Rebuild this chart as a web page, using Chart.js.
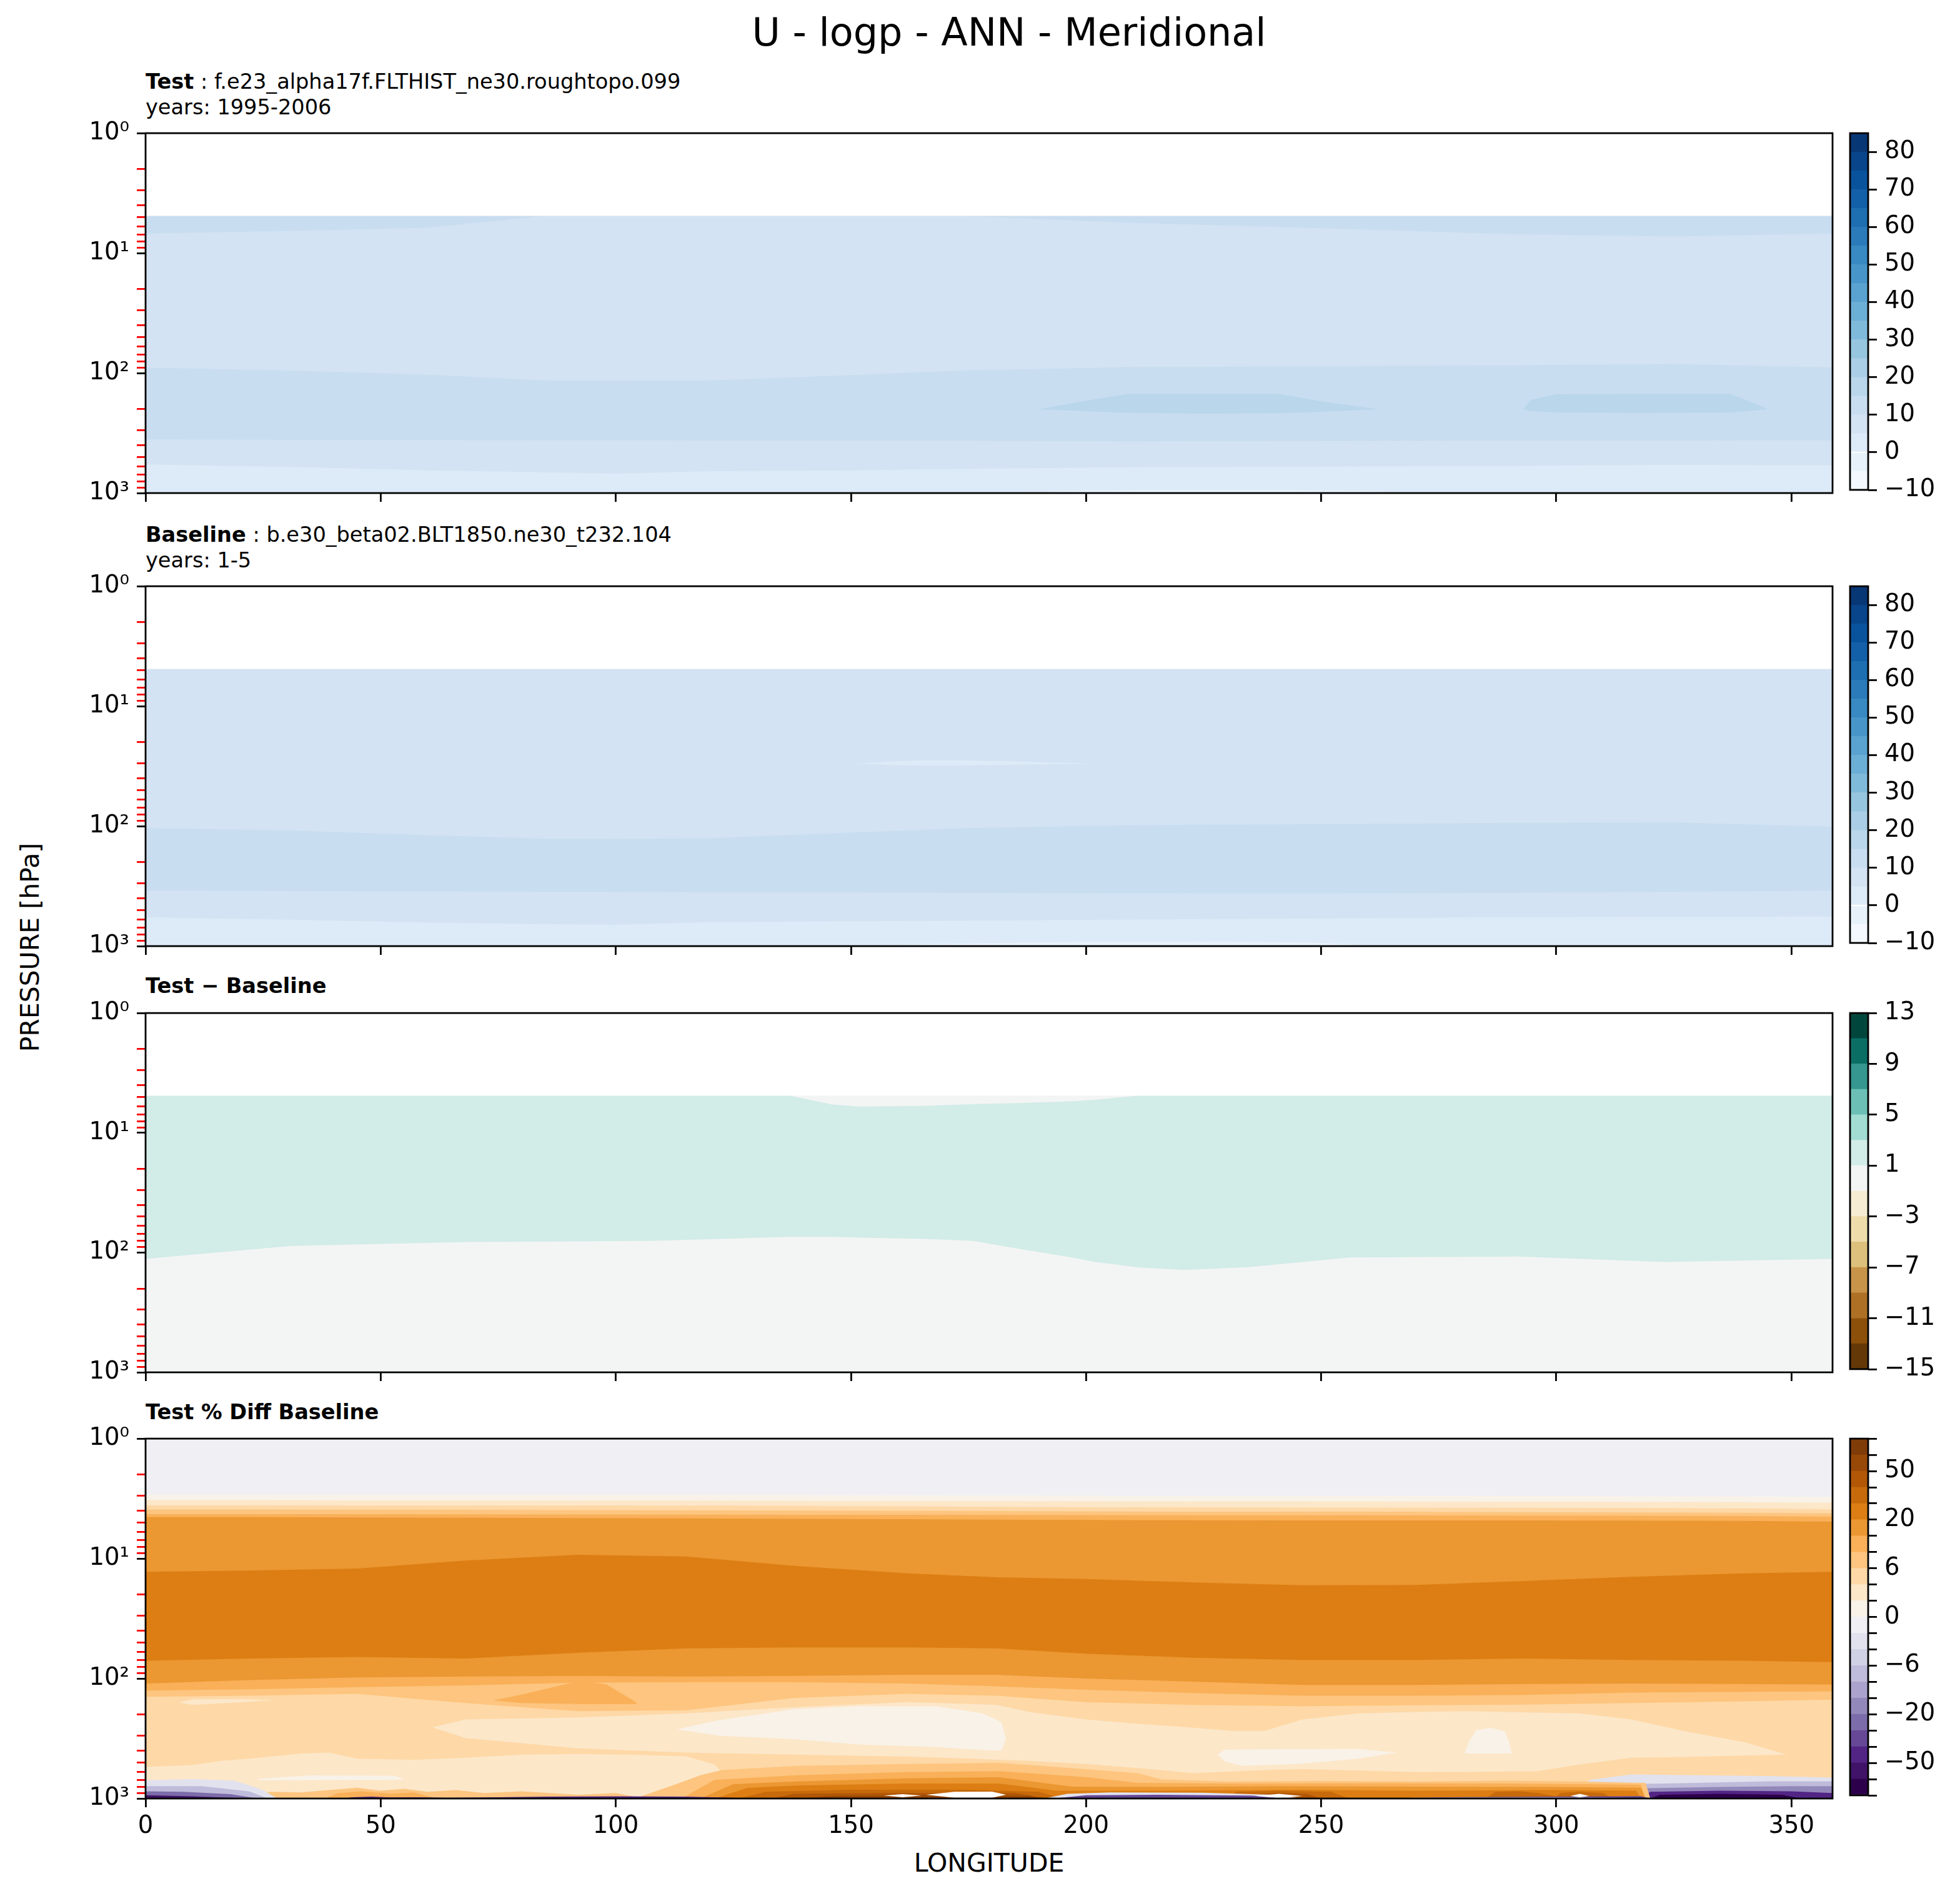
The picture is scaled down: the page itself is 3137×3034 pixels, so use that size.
<!DOCTYPE html>
<html>
<head>
<meta charset="utf-8">
<title>U - logp - ANN - Meridional</title>
<script src="https://cdn.jsdelivr.net/npm/chart.js@4.4.1/dist/chart.umd.min.js"></script>
<style>
  html, body { margin: 0; padding: 0; background: #fff; }
  body { position: relative; width: 3137px; height: 3034px; overflow: hidden; }
  canvas { position: absolute; }
  .txt { position: absolute; white-space: nowrap; font-family: 'DejaVu Sans', sans-serif; line-height: 1; color: #000; }
  .suptitle { font-size: 62px; left: 1615px; top: 21px; transform: translateX(-50%); }
  .ptitle { font-size: 33.6px; left: 233px; }
  .axlabel { font-size: 41px; }
</style>
</head>
<body>
<div class="txt suptitle">U - logp - ANN - Meridional</div>
<div class="txt ptitle" style="top:114px"><b>Test</b> : f.e23_alpha17f.FLTHIST_ne30.roughtopo.099</div>
<div class="txt ptitle" style="top:155px">years: 1995-2006</div>
<div class="txt ptitle" style="top:839px"><b>Baseline</b> : b.e30_beta02.BLT1850.ne30_t232.104</div>
<div class="txt ptitle" style="top:880px">years: 1-5</div>
<div class="txt ptitle" style="top:1561px"><b>Test − Baseline</b></div>
<div class="txt ptitle" style="top:2243px"><b>Test % Diff Baseline</b></div>
<div class="txt axlabel" style="left:1583px;top:2961px;transform:translateX(-50%)">LONGITUDE</div>
<div class="txt axlabel" style="left:48px;top:1516px;transform:translate(-50%,-50%) rotate(-90deg)">PRESSURE [hPa]</div>

<script>
// ---------- contour levels and ticks ----------
const TEST_LEVELS = [-10, -5, 0, 5, 10, 15, 20, 25, 30, 35, 40, 45, 50, 55, 60, 65, 70, 75, 80, 85];
const DIFF_LEVELS = [-15, -13, -11, -9, -7, -5, -3, -1, 1, 3, 5, 7, 9, 11, 13];
const PCT_LEVELS = [-100, -75, -50, -40, -30, -20, -15, -10, -6, -4, -2, 0, 2, 4, 6, 10, 15, 20, 30, 40, 50, 75, 100];
const TEST_CB_TICKS = [-10, 0, 10, 20, 30, 40, 50, 60, 70, 80];
const DIFF_CB_TICKS = [-15, -11, -7, -3, 1, 5, 9, 13];
const PCT_CB_LABELS = [-50, -20, -6, 0, 6, 20, 50];

const LON_TICKS = [0, 50, 100, 150, 200, 250, 300, 350];
const P_TICKS = [1, 2, 3, 4, 5, 6, 7, 8, 9, 10, 20, 30, 40, 50, 60, 70, 80, 90,
                 100, 200, 300, 400, 500, 600, 700, 800, 900, 1000];
const P_DECADES = [1, 10, 100, 1000];
const P_DECADE_LABELS = ['10⁰', '10¹', '10²', '10³'];

const LON_MIN = 0, LON_MAX = 358.75;
const P_MIN = 1, P_MAX = 1000;
const DATA_TOP = 4.9;   // model top: no data above (white)

// ---------- panel 1/2: contour boundaries (hPa) along longitude ----------
const LON_A = [0, 30, 60, 85, 100, 120, 150, 174, 210, 250, 290, 325, 358.75];
const TEST_STRAT = [6.86, 6.55, 6.15, 4.9, 4.9, 4.9, 4.9, 4.9, 5.6, 6.2, 6.95, 7.28, 6.86];
const TEST_UTROP = [90, 95, 103, 115, 116, 115, 104, 95, 89, 87.5, 86, 84, 89.5];
const TEST_MTROP = [358, 360, 362, 364, 364, 365, 366, 366, 372, 367, 366, 365, 364];
const TEST_LTROP = [578, 605, 645, 672, 689, 658, 645, 628, 608, 600, 593, 582, 589];
const BASE_UTROP = [104, 108, 119, 127, 128, 126, 113, 104, 98, 96, 94, 93, 101];
const BASE_MTROP = [345, 347, 350, 352, 353, 355, 358, 360, 364, 365, 360, 352, 345];
const BASE_LTROP = [574, 600, 635, 655, 663, 630, 620, 614, 600, 586, 574, 569, 567];

// closed contour areas: upper and lower edge (hPa); no lower edge = ground
const TEST_JET_A = { lon: [190, 200, 209, 225, 241, 250, 262], top: [200, 170, 149, 149, 149, 172, 200], bot: [200, 208, 214, 218, 216, 210, 200] };
const TEST_JET_B = { lon: [293, 294.5, 300, 318, 337, 341, 345], top: [200, 168, 150, 149, 149, 172, 200], bot: [200, 207, 212, 215, 213, 207, 200] };
const TEST_SFC_A = { lon: [185, 195, 215, 240, 260, 268], top: [1000, 962, 938, 938, 962, 1000] };
const TEST_SFC_B = { lon: [310, 320, 335, 342], top: [1000, 985, 985, 1000] };
const BASE_SLIVER = { lon: [151, 160, 168, 185, 202], top: [30.1, 28.6, 28.0, 28.8, 30.1], bot: [30.1, 31.0, 31.3, 30.9, 30.1] };
const BASE_SFC = { lon: [150, 170, 200, 230, 250, 262], top: [1000, 960, 918, 912, 940, 1000] };

// ---------- panel 3 ----------
const LON_C = [0, 31, 67, 107, 137, 146, 152, 166, 176, 185, 197, 202, 211, 221, 235, 256, 292, 323, 358.75];
const DIFF_TROP = [113, 88, 82, 80, 74, 74, 75, 77, 80, 92, 110, 120, 133, 140, 132, 110, 108, 120, 113];
const DIFF_TOPNEU = [4.9, 4.9, 4.9, 4.9, 4.9, 5.8, 6.03, 5.95, 5.76, 5.65, 5.45, 5.3, 4.9, 4.9, 4.9, 4.9, 4.9, 4.9, 4.9];

// ---------- panel 4 ----------
const LON_D = [0, 22, 45, 68, 92, 115, 138, 162, 181, 200, 223, 246, 270, 293, 316, 340, 358.75];
const PCT_T1 = [2.96, 2.96, 2.96, 2.96, 2.96, 2.96, 2.96, 2.97, 2.98, 2.99, 3.0, 3.0, 3.0, 3.01, 3.02, 3.03, 3.06];
const PCT_T2 = [3.26, 3.26, 3.27, 3.27, 3.28, 3.28, 3.29, 3.3, 3.31, 3.32, 3.33, 3.33, 3.34, 3.35, 3.36, 3.38, 3.42];
const PCT_T3 = [3.59, 3.59, 3.6, 3.6, 3.61, 3.62, 3.64, 3.67, 3.7, 3.72, 3.74, 3.75, 3.76, 3.77, 3.79, 3.82, 3.88];
const PCT_T4 = [3.9, 3.9, 3.91, 3.92, 3.94, 3.96, 3.98, 4.0, 4.02, 4.04, 4.06, 4.07, 4.08, 4.1, 4.12, 4.15, 4.2];
const PCT_T5 = [4.26, 4.26, 4.27, 4.28, 4.29, 4.3, 4.31, 4.32, 4.33, 4.34, 4.35, 4.36, 4.37, 4.38, 4.4, 4.42, 4.48];
const PCT_T6 = [4.51, 4.52, 4.54, 4.57, 4.6, 4.63, 4.66, 4.7, 4.73, 4.76, 4.79, 4.8, 4.8, 4.81, 4.82, 4.85, 4.92];
const PCT_B1 = [12.9, 12.6, 12.1, 10.4, 9.3, 9.6, 11.5, 13.3, 14.3, 14.8, 15.8, 16.7, 16.6, 15.4, 14.2, 13.3, 12.9];
const PCT_B2 = [71, 68, 66, 68, 61, 56, 55, 55, 56, 62, 67, 70, 70, 68, 70, 71, 73];
const PCT_B3 = [110, 103, 98, 96, 95, 96, 95, 93, 93, 100, 106, 113, 113, 111, 110, 111, 112];
const PCT_B4 = [126, 123, 118, 114, 108, 107, 107, 110, 116, 124, 132, 139, 139, 137, 131, 129, 128];
const PCT_B5 = [142, 139, 134, 160, 187, 184, 145, 134, 139, 157, 166, 170, 167, 165, 160, 155, 150];

const PCT_P12_BIG = {
  lon: [61, 68, 92, 115, 138, 162, 176, 181, 188, 200, 211, 223, 231, 238, 246, 258, 270, 281, 296, 305, 316, 328, 340, 349],
  top: [255, 219, 211, 195, 173, 157, 163, 166, 190, 219, 238, 257, 273, 273, 219, 195, 190, 187, 192, 195, 219, 278, 339, 430],
  bot: [255, 313, 382, 414, 431, 448, 466, 475, 485, 515, 557, 615, 595, 580, 569, 585, 603, 600, 591, 520, 457, 450, 439, 430] };
const PCT_P11_A = { lon: [113, 122, 138, 152, 168, 178, 182, 183], top: [265, 222, 180, 170, 170, 195, 230, 320], bot: [265, 300, 320, 355, 372, 395, 398, 320] };
const PCT_P11_B = { lon: [228, 229.5, 233, 245, 258, 266], top: [430, 392, 390, 388, 386, 414], bot: [430, 490, 535, 515, 466, 414] };
const PCT_P11_C = { lon: [280.5, 281.5, 283, 286, 289, 290, 290.5], top: [421, 330, 270, 257, 275, 340, 422], bot: [421, 422, 422, 422, 422, 422, 422] };
const PCT_P12_SMALL = { lon: [7, 10, 20, 27.5], top: [158, 149, 148, 151], bot: [158, 166, 158, 151] };
const PCT_P15_TRI = { lon: [74, 80, 92.5, 98, 104, 104.5], top: [152, 136, 104, 112, 155, 163], bot: [152, 160, 163, 163, 163, 163] };
const PCT_P12_LOW = { lon: [0, 10, 16, 22, 33, 39, 45, 57, 68, 80, 92, 104, 115, 121, 124], top: [546, 525, 485, 466, 422, 414, 466, 475, 457, 430, 425, 432, 445, 520, 700] };
const PCT_P11_STRIP = { lon: [24, 35, 53, 55], top: [685, 642, 645, 690], bot: [705, 705, 700, 690] };

const PCT_R10 = { lon: [305, 307, 316, 330, 345, 358.75], top: [1000, 700, 630, 640, 650, 670] };
const PCT_R8 = { lon: [314, 316, 330, 345, 358.75], top: [1000, 760, 740, 720, 720] };
const PCT_R6 = { lon: [317, 319, 335, 350, 358.75], top: [1000, 820, 800, 790, 790] };
const PCT_R3 = { lon: [318, 320, 335, 350, 358.75], top: [1000, 880, 860, 870, 900] };
const PCT_R1 = { lon: [320, 322, 335, 348, 352], top: [1000, 930, 915, 930, 1000] };
const PCT_S14A = { lon: [20, 22, 27, 33, 39, 45, 50, 55, 60, 66, 72, 80, 86, 92, 100, 106], top: [1000, 915, 880, 890, 850, 812, 860, 830, 880, 850, 900, 870, 900, 930, 900, 1000] };
const PCT_S15A = { lon: [38, 41, 46, 52, 57, 62], top: [1000, 900, 870, 910, 890, 1000] };
const PCT_S14B = { lon: [104, 112, 118, 122.5, 138.5, 162, 181.5, 193.7, 211, 216, 230, 250, 270, 290, 305, 319, 320], top: [1000, 780, 640, 579, 535, 515, 505, 546, 615, 693, 721, 715, 721, 710, 721, 740, 1000] };
const PCT_S15B = { lon: [114, 121, 138.5, 162, 181.5, 188, 199.6, 211, 230, 260, 290, 318, 319], top: [1000, 700, 640, 603, 591, 615, 661, 742, 750, 745, 750, 765, 1000] };
const PCT_S16 = { lon: [118, 125, 138.5, 162, 181.5, 197, 215, 240, 270, 300, 318, 319], top: [1000, 760, 721, 679, 666, 797, 800, 790, 796, 800, 812, 1000] };
const PCT_S17 = { lon: [121, 128, 138.5, 162, 181.5, 193.7, 215, 245, 270, 300, 317, 318], top: [1000, 815, 780, 750, 750, 860, 860, 845, 862, 850, 860, 1000] };
const PCT_S18 = { lon: [126, 132, 150, 175, 190, 195], top: [1000, 880, 845, 845, 880, 1000] };
const PCT_S19 = { lon: [133, 138, 160, 185, 192], top: [1000, 915, 897, 900, 1000] };
const PCT_S20 = { lon: [140, 145, 170, 188, 190], top: [1000, 952, 933, 950, 1000] };
const PCT_S18B = { lon: [230, 232, 241, 252, 256], top: [1000, 880, 862, 880, 1000] };
const PCT_S19B = { lon: [235, 237, 241, 247, 250], top: [1000, 915, 897, 915, 1000] };
const PCT_S18C = { lon: [285, 287, 292, 296, 300, 301, 305, 310, 312], top: [1000, 879, 870, 900, 960, 897, 879, 900, 1000] };
const PCT_L10 = { lon: [0, 10, 19, 25, 28], top: [705, 690, 710, 850, 1000] };
const PCT_L8 = { lon: [0, 12, 22, 26], top: [790, 790, 870, 1000] };
const PCT_L5 = { lon: [0, 8, 18, 24], top: [870, 880, 920, 1000] };
const PCT_L2 = { lon: [0, 10, 20, 22], top: [940, 960, 990, 1000] };
const PCT_M2 = { lon: [42, 44, 48, 52, 58, 64, 75, 85, 100, 115, 125, 128], top: [1000, 975, 965, 980, 975, 985, 975, 965, 960, 965, 985, 1000] };
const PCT_M9 = { lon: [191, 196, 205, 225, 240, 246], top: [1000, 915, 890, 895, 930, 1000] };
const PCT_M3 = { lon: [193, 200, 215, 235, 245], top: [1000, 940, 930, 945, 1000] };
const PCT_M3B = { lon: [265, 275, 300, 318, 320], top: [1000, 975, 965, 955, 1000] };
const PCT_W1 = { lon: [157, 161, 165], top: [945, 920, 945], bot: [945, 975, 945] };
const PCT_W2 = { lon: [166, 172, 180, 183], top: [930, 880, 876, 930], bot: [930, 985, 985, 930] };
const PCT_W3 = { lon: [236, 241, 246], top: [952, 915, 952], bot: [952, 990, 952] };
const PCT_W4 = { lon: [303, 305, 307], top: [952, 915, 952], bot: [952, 975, 952] };
const PCT_W5 = { lon: [262, 270, 300, 316, 318], top: [1000, 985, 980, 988, 1000] };

// ---------- colour maps ----------
const BLUES = ['#f7fbff', '#deebf7', '#c6dbef', '#9ecae1', '#6baed6', '#4292c6', '#2171b5', '#08519c', '#08306b'];
const PUOR_R = ['#2d004b', '#542788', '#8073ac', '#b2abd2', '#d8daeb', '#f7f7f7', '#fee0b6', '#fdb863', '#e08214', '#b35806', '#7f3b08'];
const DIFF_COLORS = ['#643807', '#8c500b', '#ae7025', '#c8944a', '#dcc07c', '#eedcaa', '#f6ebd3',
                     '#f3f5f4', '#d2ece8', '#a2dcd3', '#6cbfb4', '#35978f', '#0b6e65', '#00463c'];

function hexRgb(h) { return [1, 3, 5].map(i => parseInt(h.slice(i, i + 2), 16)); }
function sampleMap(anchors, t) {
  const n = anchors.length - 1, x = Math.min(Math.max(t, 0), 1) * n;
  const i = Math.min(Math.floor(x), n - 1), f = x - i;
  const a = hexRgb(anchors[i]), b = hexRgb(anchors[i + 1]);
  return 'rgb(' + a.map((v, j) => Math.round(v + (b[j] - v) * f)).join(',') + ')';
}
// midpoint sampling (plain contourf norm) or end-to-end sampling (boundary norm)
function binColors(anchors, nBins, midpoints) {
  const out = [];
  for (let k = 0; k < nBins; k++) {
    out.push(sampleMap(anchors, midpoints ? (k + 0.5) / nBins : k / (nBins - 1)));
  }
  return out;
}
const TEST_COLORS = binColors(BLUES, TEST_LEVELS.length - 1, true);
const PCT_COLORS = binColors(PUOR_R, PCT_LEVELS.length - 1, false);

// ---------- layout ----------
const AX_LEFT = 233, AX_RIGHT = 2933, CB_LEFT = 2961, CB_RIGHT = 2990;
const PANEL_BOXES = [
  { top: 208, bottom: 789 },
  { top: 933, bottom: 1514 },
  { top: 1616, bottom: 2196 },
  { top: 2297, bottom: 2878 }
];
const PAD_TOP = 30, X_AXIS_H = 70, TICK_LEN = 14, LINE_W = 2.8;

Chart.defaults.font.family = "'DejaVu Sans', sans-serif";
Chart.defaults.font.size = 38.5;
Chart.defaults.color = '#000';

const framePlugin = {
  id: 'frame',
  afterDraw(chart) {
    const { ctx, chartArea: a } = chart;
    ctx.save();
    ctx.strokeStyle = '#000';
    ctx.lineWidth = LINE_W;
    ctx.strokeRect(a.left, a.top, a.right - a.left, a.bottom - a.top);
    ctx.restore();
  }
};

function makeCanvas(left, top, w, h) {
  const c = document.createElement('canvas');
  c.width = w; c.height = h;
  c.style.left = left + 'px'; c.style.top = top + 'px';
  c.style.width = w + 'px'; c.style.height = h + 'px';
  document.body.appendChild(c);
  return c;
}

function pts(lon, p) { return lon.map((x, i) => ({ x: x, y: p[i] })); }

function buildDatasets(layers, patches, colors) {
  const colorOf = bin => (bin === 'white' ? '#ffffff' : colors[bin]);
  const list = [];
  // bands: each boundary is filled up to the top of the axes, painted from the ground upward
  layers.forEach(L => list.push({ data: pts(L.lon, L.p), fill: 'end', backgroundColor: colorOf(L.bin) }));
  // closed areas: fill between upper edge and lower edge
  patches.forEach(([P, bin]) => {
    list.push({ data: pts(P.lon, P.top), fill: '+1', backgroundColor: colorOf(bin) });
    list.push({ data: pts(P.lon, P.bot || P.lon.map(() => P_MAX)), fill: false });
  });
  const n = list.length;
  return list.map((d, i) => Object.assign(d, {
    type: 'line', order: n - i, borderWidth: 0, pointRadius: 0, tension: 0
  }));
}

function drawPanel(box, datasets, showXLabels) {
  const h = box.bottom - box.top + PAD_TOP + X_AXIS_H;
  const c = makeCanvas(0, box.top - PAD_TOP, AX_RIGHT + 10, h);
  new Chart(c, {
    type: 'line',
    data: { datasets: datasets },
    options: {
      responsive: false, animation: false, events: [], devicePixelRatio: 1,
      layout: { padding: { top: PAD_TOP, right: 10, left: 0, bottom: 0 } },
      plugins: { legend: { display: false }, tooltip: { enabled: false } },
      scales: {
        x: {
          type: 'linear', min: LON_MIN, max: LON_MAX,
          afterBuildTicks: s => { s.ticks = LON_TICKS.map(v => ({ value: v })); },
          afterFit: s => { s.height = X_AXIS_H; },
          grid: { display: true, drawOnChartArea: false, drawTicks: true, tickLength: TICK_LEN, lineWidth: LINE_W, tickColor: '#000' },
          border: { display: false },
          ticks: { display: showXLabels, autoSkip: false, maxRotation: 0, padding: 8, callback: v => String(v) }
        },
        y: {
          type: 'logarithmic', reverse: true, min: P_MIN, max: P_MAX,
          afterBuildTicks: s => { s.ticks = P_TICKS.map(v => ({ value: v, major: P_DECADES.includes(v) })); },
          afterFit: s => { s.width = AX_LEFT; },
          grid: {
            display: true, drawOnChartArea: false, drawTicks: true, tickLength: TICK_LEN, lineWidth: LINE_W,
            tickColor: ctx => (ctx.tick && P_DECADES.includes(ctx.tick.value) ? '#000' : '#ff0000')
          },
          border: { display: false },
          ticks: {
            autoSkip: false, padding: 12,
            callback: v => { const i = P_DECADES.indexOf(v); return i >= 0 ? P_DECADE_LABELS[i] : ''; }
          }
        }
      }
    },
    plugins: [framePlugin]
  });
}

function fmt(v) { return v < 0 ? '\u2212' + Math.abs(v) : String(v); }

function drawColorbar(box, edges, colors, tickVals, labelFn) {
  const w = 3137 - (CB_LEFT - 5);
  const c = makeCanvas(CB_LEFT - 5, box.top - PAD_TOP, w, box.bottom - box.top + 2 * PAD_TOP);
  const datasets = colors.map((col, k) => ({
    data: [[edges[k], edges[k + 1]]], backgroundColor: col, borderWidth: 0,
    barPercentage: 1, categoryPercentage: 1, grouped: false
  }));
  new Chart(c, {
    type: 'bar',
    data: { labels: [''], datasets: datasets },
    options: {
      responsive: false, animation: false, events: [], devicePixelRatio: 1,
      layout: { padding: { top: PAD_TOP, bottom: PAD_TOP, left: 5, right: 0 } },
      plugins: { legend: { display: false }, tooltip: { enabled: false } },
      scales: {
        x: { display: false },
        y: {
          position: 'right', min: edges[0], max: edges[edges.length - 1],
          afterBuildTicks: s => { s.ticks = tickVals.map(v => ({ value: v })); },
          afterFit: s => { s.width = w - 5 - (CB_RIGHT - CB_LEFT); },
          grid: { display: true, drawOnChartArea: false, drawTicks: true, tickLength: TICK_LEN, lineWidth: LINE_W, tickColor: '#000' },
          border: { display: false },
          ticks: { autoSkip: false, padding: 12, callback: labelFn }
        }
      }
    },
    plugins: [framePlugin]
  });
}

const FULL = [LON_MIN, LON_MAX];
const GROUND = [P_MAX, P_MAX];
const TOP_EDGE = [DATA_TOP, DATA_TOP];

// ---- panel 1: Test ----
drawPanel(PANEL_BOXES[0], buildDatasets([
  { lon: FULL, p: GROUND, bin: 2 },
  { lon: LON_A, p: TEST_LTROP, bin: 3 },
  { lon: LON_A, p: TEST_MTROP, bin: 4 },
  { lon: LON_A, p: TEST_UTROP, bin: 3 },
  { lon: LON_A, p: TEST_STRAT, bin: 4 },
  { lon: FULL, p: TOP_EDGE, bin: 'white' }
], [[TEST_JET_A, 5], [TEST_JET_B, 5], [TEST_SFC_A, 1], [TEST_SFC_B, 1]], TEST_COLORS), false);

// ---- panel 2: Baseline ----
drawPanel(PANEL_BOXES[1], buildDatasets([
  { lon: FULL, p: GROUND, bin: 2 },
  { lon: LON_A, p: BASE_LTROP, bin: 3 },
  { lon: LON_A, p: BASE_MTROP, bin: 4 },
  { lon: LON_A, p: BASE_UTROP, bin: 3 },
  { lon: FULL, p: TOP_EDGE, bin: 'white' }
], [[BASE_SLIVER, 2], [BASE_SFC, 1]], TEST_COLORS), false);

// ---- panel 3: Test - Baseline ----
drawPanel(PANEL_BOXES[2], buildDatasets([
  { lon: FULL, p: GROUND, bin: 7 },
  { lon: LON_C, p: DIFF_TROP, bin: 8 },
  { lon: LON_C, p: DIFF_TOPNEU, bin: 7 },
  { lon: FULL, p: TOP_EDGE, bin: 'white' }
], [], DIFF_COLORS), false);

// ---- panel 4: Test % Diff Baseline ----
drawPanel(PANEL_BOXES[3], buildDatasets([
  { lon: FULL, p: GROUND, bin: 13 },
  { lon: LON_D, p: PCT_B5, bin: 14 },
  { lon: LON_D, p: PCT_B4, bin: 15 },
  { lon: LON_D, p: PCT_B3, bin: 16 },
  { lon: LON_D, p: PCT_B2, bin: 17 },
  { lon: LON_D, p: PCT_B1, bin: 16 },
  { lon: LON_D, p: PCT_T6, bin: 15 },
  { lon: LON_D, p: PCT_T5, bin: 14 },
  { lon: LON_D, p: PCT_T4, bin: 13 },
  { lon: LON_D, p: PCT_T3, bin: 12 },
  { lon: LON_D, p: PCT_T2, bin: 11 },
  { lon: LON_D, p: PCT_T1, bin: 10 }
], [
  [PCT_P12_BIG, 12], [PCT_P11_A, 11], [PCT_P11_B, 11], [PCT_P11_C, 11], [PCT_P12_SMALL, 12],
  [PCT_P15_TRI, 15], [PCT_P12_LOW, 12], [PCT_P11_STRIP, 11],
  [PCT_R10, 9], [PCT_R8, 7], [PCT_R6, 5], [PCT_R3, 2], [PCT_R1, 0],
  [PCT_S14A, 14], [PCT_S15A, 15], [PCT_S14B, 14], [PCT_S15B, 15], [PCT_S16, 16], [PCT_S17, 17],
  [PCT_S18, 18], [PCT_S19, 19], [PCT_S20, 20], [PCT_S18B, 18], [PCT_S19B, 19], [PCT_S18C, 18],
  [PCT_L10, 9], [PCT_L8, 7], [PCT_L5, 4], [PCT_L2, 1],
  [PCT_M2, 2], [PCT_M9, 9], [PCT_M3, 3], [PCT_M3B, 3],
  [PCT_W1, 'white'], [PCT_W2, 'white'], [PCT_W3, 'white'], [PCT_W4, 'white'], [PCT_W5, 'white']
], PCT_COLORS), true);

// ---- colour bars ----
drawColorbar(PANEL_BOXES[0], TEST_LEVELS, TEST_COLORS, TEST_CB_TICKS, v => fmt(v));
drawColorbar(PANEL_BOXES[1], TEST_LEVELS, TEST_COLORS, TEST_CB_TICKS, v => fmt(v));
drawColorbar(PANEL_BOXES[2], DIFF_LEVELS, DIFF_COLORS, DIFF_CB_TICKS, v => fmt(v));
// percent levels are unevenly spaced: the bar is drawn in level-index space
const PCT_INDEX = PCT_LEVELS.map((v, i) => i);
drawColorbar(PANEL_BOXES[3], PCT_INDEX, PCT_COLORS, PCT_INDEX,
  v => (PCT_CB_LABELS.includes(PCT_LEVELS[v]) ? fmt(PCT_LEVELS[v]) : ''));
</script>
</body>
</html>
